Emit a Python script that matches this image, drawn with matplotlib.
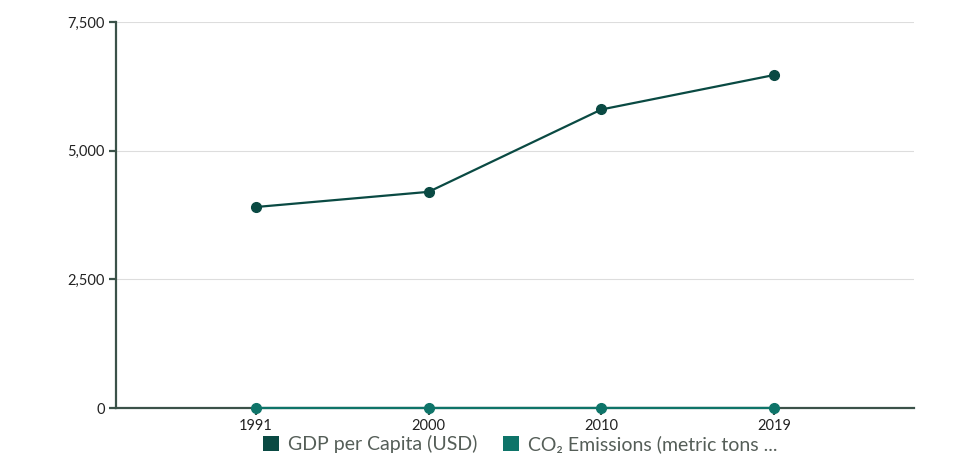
import matplotlib
matplotlib.use("Agg")
import matplotlib.pyplot as plt
import numpy as np
from matplotlib.patches import Patch
from matplotlib.ticker import FuncFormatter

years = ["1991", "2000", "2010", "2019"]
gdp_per_capita = [3905, 4200, 5800, 6470]
co2_emissions = [0.3, 0.5, 0.8, 0.9]

gdp_color = "#0a4a43"
co2_color = "#0e7469"
axis_color = "#3b5249"

plt.rcParams['font.family'] = ['Lato', 'DejaVu Sans']

fig = plt.figure(figsize=(9.66, 4.75), dpi=100)
ax = fig.add_axes([116 / 966, 67 / 475, 798 / 966, 386 / 475])

x = np.arange(len(years))
ax.plot(x, gdp_per_capita, color=gdp_color, lw=1.6, marker="o", ms=7, zorder=3)
ax.plot(x, co2_emissions, color=co2_color, lw=1.6, marker="o", ms=7, zorder=4,
        clip_on=False)

ax.set_xlim(-0.81, len(years) - 1 + 0.81)
ax.set_ylim(0, 7500)
ax.set_xticks(x)
ax.set_xticklabels(years)
ax.set_yticks([0, 2500, 5000, 7500])
ax.yaxis.set_major_formatter(FuncFormatter(lambda v, p: f"{int(v):,}"))

ax.grid(axis="y", color="#dddddd", lw=0.8)
ax.set_axisbelow(True)
for s in ["top", "right"]:
    ax.spines[s].set_visible(False)
for s in ["left", "bottom"]:
    ax.spines[s].set_color(axis_color)
    ax.spines[s].set_linewidth(1.6)
ax.tick_params(axis="both", color=axis_color, width=1.6, length=5,
               labelsize=10.5, labelcolor="#222222", pad=3)

handles = [Patch(facecolor=gdp_color, label="GDP per Capita (USD)"),
           Patch(facecolor=co2_color, label="CO₂ Emissions (metric tons ...")]
fig.legend(handles=handles, loc="center", bbox_to_anchor=(520 / 966, 1 - 444 / 475),
           ncol=2, frameon=False, fontsize=14, handlelength=0.85, handleheight=0.85,
           handletextpad=0.45, columnspacing=1.3, labelcolor="#555e58")

fig.savefig("out.png", dpi=100)
